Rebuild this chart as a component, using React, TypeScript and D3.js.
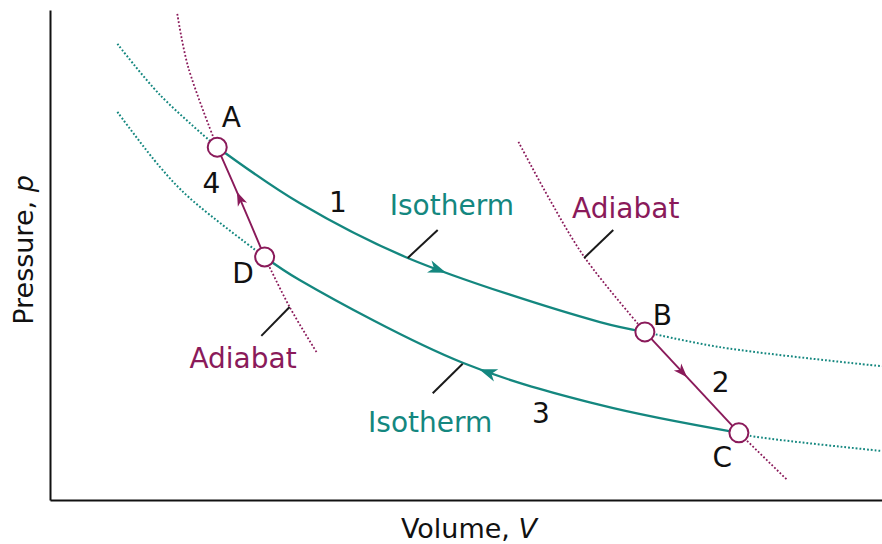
import React, { useEffect, useRef } from 'react'
import * as d3 from 'd3'

const width = 882
const height = 544

const teal = '#14877f'
const purple = '#8a1a5a'
const font = '"DejaVu Sans", sans-serif'

// corner points of the cycle, [V, p]
const A = [20.1, 72.0]
const B = [71.5, 34.3]
const C = [82.8, 13.7]
const D = [25.8, 49.6]

// upper (hot) isotherm
const hotLeft = [[8.1, 93.1], [13.2, 82.7], A]
const hotPath = [A, [30.0, 60.6], [43.0, 49.4], [66.1, 36.3], B]
const hotRight = [B, [80.5, 31.2], [100, 27.3]]

// lower (cold) isotherm, solid part runs C -> D
const coldLeft = [[8.1, 79.2], [13.2, 68.0], [16.8, 61.6], D]
const coldPath = [C, [66.1, 19.4], [49.6, 28.0], [30.0, 44.9], D]
const coldRight = [C, [84.1, 13.1], [100, 10.0]]

// left adiabat, solid part runs D -> A
const adiaLeftTop = [[15.3, 99.2], [16.6, 88.4], A]
const adiaLeftPath = [D, [23.0, 60.8], A]
const adiaLeftBottom = [D, [28.8, 39.4], [32.1, 30.0]]

// right adiabat, solid part runs B -> C
const adiaRightTop = [[56.3, 73.1], [60.1, 61.2], [64.3, 49.4], B]
const adiaRightPath = [B, C]
const adiaRightBottom = [C, [88.6, 4.1]]

// where the direction arrows sit (V)
const arrowV = { hot: 46.6, cold: 52.6, adiaRight: 76.0, adiaLeft: 22.8 }

const cornerNames = ['A', 'B', 'C', 'D']
const corners = [A, B, C, D]

export default function App() {
  const svgRef = useRef(null)

  useEffect(() => {
    const svg = d3.select(svgRef.current)
    svg.selectAll('*').remove()

    const x = d3.scaleLinear().domain([0, 100]).range([50, 882])
    const y = d3.scaleLinear().domain([0, 100]).range([500, 10])

    const line = d3
      .line()
      .x(d => x(d[0]))
      .y(d => y(d[1]))
      .curve(d3.curveCatmullRom.alpha(0.5))

    // axes, no ticks
    svg
      .append('g')
      .attr('transform', 'translate(0,500)')
      .call(d3.axisBottom(x).ticks(0).tickSizeOuter(0))
      .select('.domain')
      .attr('stroke', '#111')
      .attr('stroke-width', 2)
    svg
      .append('g')
      .attr('transform', 'translate(50,0)')
      .call(d3.axisLeft(y).ticks(0).tickSizeOuter(0))
      .select('.domain')
      .attr('stroke', '#111')
      .attr('stroke-width', 2)

    const dotted = (pts, color, w) =>
      svg
        .append('path')
        .attr('d', line(pts))
        .attr('fill', 'none')
        .attr('stroke', color)
        .attr('stroke-width', w)
        .attr('stroke-dasharray', '1.8 2')

    const solid = (pts, color, w) =>
      svg
        .append('path')
        .attr('d', line(pts))
        .attr('fill', 'none')
        .attr('stroke', color)
        .attr('stroke-width', w)

    dotted(hotLeft, teal, 2)
    dotted(hotRight, teal, 2)
    dotted(coldLeft, teal, 2)
    dotted(coldRight, teal, 2)
    dotted(adiaLeftTop, purple, 1.8)
    dotted(adiaLeftBottom, purple, 1.8)
    dotted(adiaRightTop, purple, 1.8)
    dotted(adiaRightBottom, purple, 1.8)

    const hot = solid(hotPath, teal, 2.3)
    const cold = solid(coldPath, teal, 2.3)
    const adiaL = solid(adiaLeftPath, purple, 1.9)
    const adiaR = solid(adiaRightPath, purple, 1.9)

    // arrow head at the spot of the path where x = x(v)
    const arrow = (sel, v, color, size) => {
      const node = sel.node()
      const total = node.getTotalLength()
      const px = x(v)
      const x0 = node.getPointAtLength(0).x
      const x1 = node.getPointAtLength(total).x
      const up = x1 > x0
      let lo = 0,
        hi = total
      for (let i = 0; i < 40; i++) {
        const mid = (lo + hi) / 2
        const pt = node.getPointAtLength(mid)
        if (pt.x < px === up) lo = mid
        else hi = mid
      }
      const l = (lo + hi) / 2
      const p = node.getPointAtLength(l)
      const a = node.getPointAtLength(Math.max(0, l - 2))
      const b = node.getPointAtLength(Math.min(total, l + 2))
      const ang = (Math.atan2(b.y - a.y, b.x - a.x) * 180) / Math.PI
      const s = size
      svg
        .append('path')
        .attr(
          'd',
          `M${s},0L${-s},${-s * 0.72}L${-s * 0.45},0L${-s},${s * 0.72}Z`
        )
        .attr('fill', color)
        .attr('transform', `translate(${p.x},${p.y}) rotate(${ang})`)
    }

    arrow(hot, arrowV.hot, teal, 9)
    arrow(cold, arrowV.cold, teal, 9)
    arrow(adiaR, arrowV.adiaRight, purple, 7)
    arrow(adiaL, arrowV.adiaLeft, purple, 7)

    // leader lines from the curves to their names
    const leaders = [
      [[43.0, 49.4], [46.6, 55.1]],
      [[49.6, 27.8], [46.0, 21.8]],
      [[64.2, 49.4], [67.7, 55.1]],
      [[28.8, 39.4], [25.4, 33.5]]
    ]
    leaders.forEach(([s, e]) =>
      svg
        .append('line')
        .attr('x1', x(s[0]))
        .attr('y1', y(s[1]))
        .attr('x2', x(e[0]))
        .attr('y2', y(e[1]))
        .attr('stroke', '#1a1a1a')
        .attr('stroke-width', 2)
    )

    // corner circles
    svg
      .selectAll('circle.corner')
      .data(corners)
      .enter()
      .append('circle')
      .attr('class', 'corner')
      .attr('cx', d => x(d[0]))
      .attr('cy', d => y(d[1]))
      .attr('r', 9.5)
      .attr('fill', '#fff')
      .attr('stroke', purple)
      .attr('stroke-width', 2)

    // labels
    const labels = [
      { t: 'Isotherm', at: [48.3, 58.2], c: teal },
      { t: 'Isotherm', at: [45.7, 13.9], c: teal },
      { t: 'Adiabat', at: [69.2, 57.6], c: purple },
      { t: 'Adiabat', at: [23.2, 26.9], c: purple },
      { t: '1', at: [34.6, 58.8], c: '#111' },
      { t: '2', at: [80.6, 22.0], c: '#111' },
      { t: '3', at: [59.0, 15.7], c: '#111' },
      { t: '4', at: [19.4, 62.7], c: '#111' },
      { t: cornerNames[0], at: [21.8, 76.1], c: '#111' },
      { t: cornerNames[1], at: [73.6, 35.7], c: '#111' },
      { t: cornerNames[2], at: [80.8, 6.7], c: '#111' },
      { t: cornerNames[3], at: [23.2, 44.3], c: '#111' }
    ]
    svg
      .selectAll('text.lab')
      .data(labels)
      .enter()
      .append('text')
      .attr('class', 'lab')
      .attr('x', d => x(d.at[0]))
      .attr('y', d => y(d.at[1]))
      .attr('text-anchor', 'middle')
      .attr('font-family', font)
      .attr('font-size', 28)
      .attr('fill', d => d.c)
      .text(d => d.t)

    // axis titles
    const xt = svg
      .append('text')
      .attr('x', 469)
      .attr('y', 538)
      .attr('text-anchor', 'middle')
      .attr('font-family', font)
      .attr('font-size', 27)
      .attr('fill', '#111')
    xt.append('tspan').text('Volume, ')
    xt.append('tspan').attr('font-style', 'italic').text('V')

    const yt = svg
      .append('text')
      .attr('transform', 'translate(33,250) rotate(-90)')
      .attr('text-anchor', 'middle')
      .attr('font-family', font)
      .attr('font-size', 27)
      .attr('fill', '#111')
    yt.append('tspan').text('Pressure, ')
    yt.append('tspan').attr('font-style', 'italic').text('p')
  }, [])

  return (
    <svg
      ref={svgRef}
      width={width}
      height={height}
      style={{ position: 'absolute', left: 0, top: 0, background: '#fff' }}
    />
  )
}
